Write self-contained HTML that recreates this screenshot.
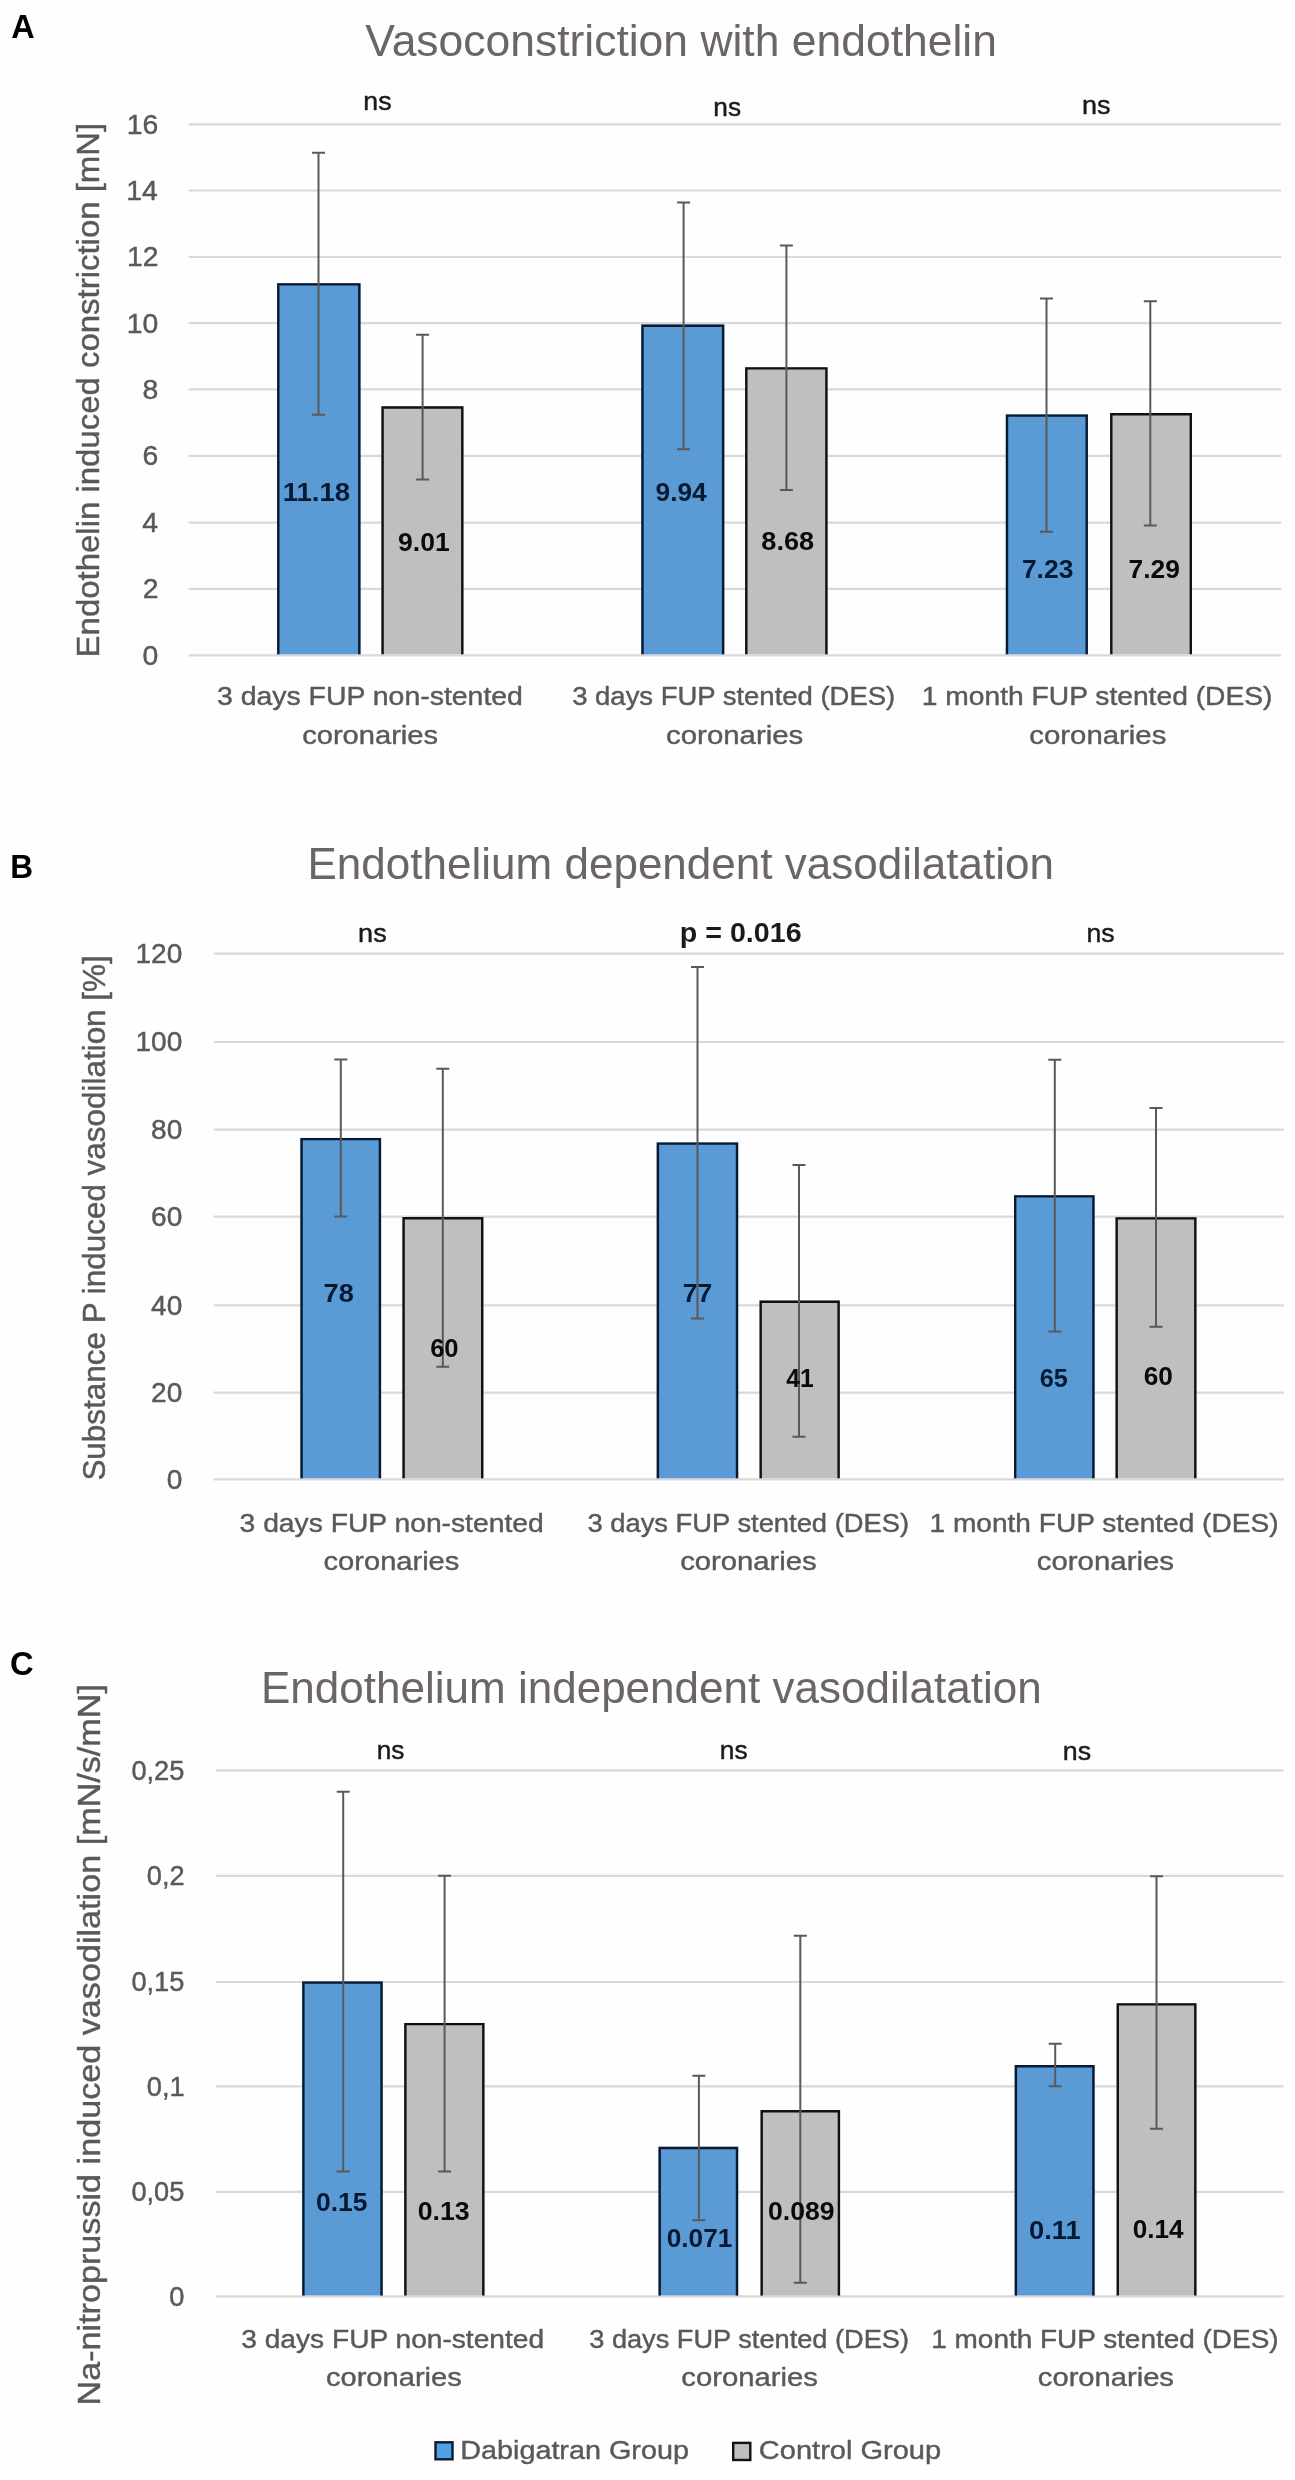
<!DOCTYPE html>
<html><head><meta charset="utf-8"><style>
html,body{margin:0;padding:0;background:#fefefe;}
svg{display:block;will-change:transform;}
text{font-family:"Liberation Sans",sans-serif;}
</style></head><body>
<svg width="1295" height="2480" viewBox="0 0 1295 2480">
<rect x="0" y="0" width="1295" height="2480" fill="#fefefe"/>

<line x1="188.6" y1="655.30" x2="1281.3" y2="655.30" stroke="#d9d9d9" stroke-width="2.2"/>
<line x1="188.6" y1="588.80" x2="1281.3" y2="588.80" stroke="#d9d9d9" stroke-width="2.2"/>
<line x1="188.6" y1="522.70" x2="1281.3" y2="522.70" stroke="#d9d9d9" stroke-width="2.2"/>
<line x1="188.6" y1="455.80" x2="1281.3" y2="455.80" stroke="#d9d9d9" stroke-width="2.2"/>
<line x1="188.6" y1="389.40" x2="1281.3" y2="389.40" stroke="#d9d9d9" stroke-width="2.2"/>
<line x1="188.6" y1="323.20" x2="1281.3" y2="323.20" stroke="#d9d9d9" stroke-width="2.2"/>
<line x1="188.6" y1="257.00" x2="1281.3" y2="257.00" stroke="#d9d9d9" stroke-width="2.2"/>
<line x1="188.6" y1="190.50" x2="1281.3" y2="190.50" stroke="#d9d9d9" stroke-width="2.2"/>
<line x1="188.6" y1="124.40" x2="1281.3" y2="124.40" stroke="#d9d9d9" stroke-width="2.2"/>
<rect x="277.10" y="283.20" width="83.40" height="371.10" fill="#5b9bd5"/>
<path d="M278.30,654.30 V284.40 H359.30 V654.30" fill="none" stroke="#0b1a30" stroke-width="2.4" stroke-linejoin="miter"/>
<rect x="381.40" y="406.30" width="82.10" height="248.00" fill="#bfbfbf"/>
<path d="M382.60,654.30 V407.50 H462.30 V654.30" fill="none" stroke="#111" stroke-width="2.4" stroke-linejoin="miter"/>
<rect x="641.30" y="324.50" width="83.00" height="329.80" fill="#5b9bd5"/>
<path d="M642.50,654.30 V325.70 H723.10 V654.30" fill="none" stroke="#0b1a30" stroke-width="2.4" stroke-linejoin="miter"/>
<rect x="745.10" y="367.20" width="82.50" height="287.10" fill="#bfbfbf"/>
<path d="M746.30,654.30 V368.40 H826.40 V654.30" fill="none" stroke="#111" stroke-width="2.4" stroke-linejoin="miter"/>
<rect x="1005.80" y="414.40" width="82.10" height="239.90" fill="#5b9bd5"/>
<path d="M1007.00,654.30 V415.60 H1086.70 V654.30" fill="none" stroke="#0b1a30" stroke-width="2.4" stroke-linejoin="miter"/>
<rect x="1110.10" y="413.00" width="81.90" height="241.30" fill="#bfbfbf"/>
<path d="M1111.30,654.30 V414.20 H1190.80 V654.30" fill="none" stroke="#111" stroke-width="2.4" stroke-linejoin="miter"/>
<path d="M318.50,152.80 V414.70 M312.00,152.80 H325.00 M312.00,414.70 H325.00" fill="none" stroke="#595959" stroke-width="2"/>
<path d="M422.60,334.70 V479.50 M416.10,334.70 H429.10 M416.10,479.50 H429.10" fill="none" stroke="#595959" stroke-width="2"/>
<path d="M683.60,202.60 V449.30 M677.10,202.60 H690.10 M677.10,449.30 H690.10" fill="none" stroke="#595959" stroke-width="2"/>
<path d="M786.40,245.40 V490.00 M779.90,245.40 H792.90 M779.90,490.00 H792.90" fill="none" stroke="#595959" stroke-width="2"/>
<path d="M1046.50,298.50 V531.70 M1040.00,298.50 H1053.00 M1040.00,531.70 H1053.00" fill="none" stroke="#595959" stroke-width="2"/>
<path d="M1150.30,301.30 V525.60 M1143.80,301.30 H1156.80 M1143.80,525.60 H1156.80" fill="none" stroke="#595959" stroke-width="2"/>
<line x1="213.9" y1="1479.30" x2="1283.8" y2="1479.30" stroke="#d9d9d9" stroke-width="2.2"/>
<line x1="213.9" y1="1392.60" x2="1283.8" y2="1392.60" stroke="#d9d9d9" stroke-width="2.2"/>
<line x1="213.9" y1="1305.30" x2="1283.8" y2="1305.30" stroke="#d9d9d9" stroke-width="2.2"/>
<line x1="213.9" y1="1216.70" x2="1283.8" y2="1216.70" stroke="#d9d9d9" stroke-width="2.2"/>
<line x1="213.9" y1="1129.70" x2="1283.8" y2="1129.70" stroke="#d9d9d9" stroke-width="2.2"/>
<line x1="213.9" y1="1042.00" x2="1283.8" y2="1042.00" stroke="#d9d9d9" stroke-width="2.2"/>
<line x1="213.9" y1="953.60" x2="1283.8" y2="953.60" stroke="#d9d9d9" stroke-width="2.2"/>
<rect x="300.40" y="1137.90" width="80.70" height="340.40" fill="#5b9bd5"/>
<path d="M301.60,1478.30 V1139.10 H379.90 V1478.30" fill="none" stroke="#0b1a30" stroke-width="2.4" stroke-linejoin="miter"/>
<rect x="402.40" y="1217.10" width="81.00" height="261.20" fill="#bfbfbf"/>
<path d="M403.60,1478.30 V1218.30 H482.20 V1478.30" fill="none" stroke="#111" stroke-width="2.4" stroke-linejoin="miter"/>
<rect x="656.70" y="1142.40" width="81.50" height="335.90" fill="#5b9bd5"/>
<path d="M657.90,1478.30 V1143.60 H737.00 V1478.30" fill="none" stroke="#0b1a30" stroke-width="2.4" stroke-linejoin="miter"/>
<rect x="759.50" y="1300.50" width="80.30" height="177.80" fill="#bfbfbf"/>
<path d="M760.70,1478.30 V1301.70 H838.60 V1478.30" fill="none" stroke="#111" stroke-width="2.4" stroke-linejoin="miter"/>
<rect x="1014.00" y="1195.20" width="80.60" height="283.10" fill="#5b9bd5"/>
<path d="M1015.20,1478.30 V1196.40 H1093.40 V1478.30" fill="none" stroke="#0b1a30" stroke-width="2.4" stroke-linejoin="miter"/>
<rect x="1115.50" y="1217.20" width="81.00" height="261.10" fill="#bfbfbf"/>
<path d="M1116.70,1478.30 V1218.40 H1195.30 V1478.30" fill="none" stroke="#111" stroke-width="2.4" stroke-linejoin="miter"/>
<path d="M340.80,1059.50 V1216.60 M334.30,1059.50 H347.30 M334.30,1216.60 H347.30" fill="none" stroke="#595959" stroke-width="2"/>
<path d="M442.80,1068.70 V1366.80 M436.30,1068.70 H449.30 M436.30,1366.80 H449.30" fill="none" stroke="#595959" stroke-width="2"/>
<path d="M697.50,967.00 V1318.60 M691.00,967.00 H704.00 M691.00,1318.60 H704.00" fill="none" stroke="#595959" stroke-width="2"/>
<path d="M799.00,1165.00 V1436.70 M792.50,1165.00 H805.50 M792.50,1436.70 H805.50" fill="none" stroke="#595959" stroke-width="2"/>
<path d="M1054.80,1059.70 V1331.40 M1048.30,1059.70 H1061.30 M1048.30,1331.40 H1061.30" fill="none" stroke="#595959" stroke-width="2"/>
<path d="M1156.00,1107.90 V1326.80 M1149.50,1107.90 H1162.50 M1149.50,1326.80 H1162.50" fill="none" stroke="#595959" stroke-width="2"/>
<line x1="216.0" y1="2296.40" x2="1283.5" y2="2296.40" stroke="#d9d9d9" stroke-width="2.2"/>
<line x1="216.0" y1="2191.90" x2="1283.5" y2="2191.90" stroke="#d9d9d9" stroke-width="2.2"/>
<line x1="216.0" y1="2086.40" x2="1283.5" y2="2086.40" stroke="#d9d9d9" stroke-width="2.2"/>
<line x1="216.0" y1="1982.00" x2="1283.5" y2="1982.00" stroke="#d9d9d9" stroke-width="2.2"/>
<line x1="216.0" y1="1875.90" x2="1283.5" y2="1875.90" stroke="#d9d9d9" stroke-width="2.2"/>
<line x1="216.0" y1="1770.40" x2="1283.5" y2="1770.40" stroke="#d9d9d9" stroke-width="2.2"/>
<rect x="302.20" y="1981.40" width="80.50" height="314.00" fill="#5b9bd5"/>
<path d="M303.40,2295.40 V1982.60 H381.50 V2295.40" fill="none" stroke="#0b1a30" stroke-width="2.4" stroke-linejoin="miter"/>
<rect x="404.20" y="2022.90" width="80.30" height="272.50" fill="#bfbfbf"/>
<path d="M405.40,2295.40 V2024.10 H483.30 V2295.40" fill="none" stroke="#111" stroke-width="2.4" stroke-linejoin="miter"/>
<rect x="658.50" y="2146.80" width="79.70" height="148.60" fill="#5b9bd5"/>
<path d="M659.70,2295.40 V2148.00 H737.00 V2295.40" fill="none" stroke="#0b1a30" stroke-width="2.4" stroke-linejoin="miter"/>
<rect x="760.50" y="2110.00" width="79.60" height="185.40" fill="#bfbfbf"/>
<path d="M761.70,2295.40 V2111.20 H838.90 V2295.40" fill="none" stroke="#111" stroke-width="2.4" stroke-linejoin="miter"/>
<rect x="1014.70" y="2065.00" width="79.90" height="230.40" fill="#5b9bd5"/>
<path d="M1015.90,2295.40 V2066.20 H1093.40 V2295.40" fill="none" stroke="#0b1a30" stroke-width="2.4" stroke-linejoin="miter"/>
<rect x="1116.60" y="2003.20" width="79.90" height="292.20" fill="#bfbfbf"/>
<path d="M1117.80,2295.40 V2004.40 H1195.30 V2295.40" fill="none" stroke="#111" stroke-width="2.4" stroke-linejoin="miter"/>
<path d="M343.20,1791.70 V2171.50 M336.70,1791.70 H349.70 M336.70,2171.50 H349.70" fill="none" stroke="#595959" stroke-width="2"/>
<path d="M444.60,1875.80 V2171.50 M438.10,1875.80 H451.10 M438.10,2171.50 H451.10" fill="none" stroke="#595959" stroke-width="2"/>
<path d="M698.90,2075.70 V2220.20 M692.40,2075.70 H705.40 M692.40,2220.20 H705.40" fill="none" stroke="#595959" stroke-width="2"/>
<path d="M800.30,1935.80 V2282.70 M793.80,1935.80 H806.80 M793.80,2282.70 H806.80" fill="none" stroke="#595959" stroke-width="2"/>
<path d="M1055.20,2043.70 V2086.30 M1048.70,2043.70 H1061.70 M1048.70,2086.30 H1061.70" fill="none" stroke="#595959" stroke-width="2"/>
<path d="M1156.50,1876.20 V2128.70 M1150.00,1876.20 H1163.00 M1150.00,2128.70 H1163.00" fill="none" stroke="#595959" stroke-width="2"/>
<rect x="435.5" y="2442.3" width="17.0" height="17.0" fill="#529fe3" stroke="#0b1a30" stroke-width="2.4"/>
<rect x="733.2" y="2442.9" width="17.1" height="17.1" fill="#bfbfbf" stroke="#111" stroke-width="2.4"/>
<text transform="translate(11.15,38.30) scale(0.9722,1)" font-size="33.43" font-weight="bold" fill="#000">A</text>
<text transform="translate(365.30,56.00) scale(0.9994,1)" font-size="44.48" fill="#6b6566">Vasoconstriction with endothelin</text>
<text transform="translate(363.33,110.38) scale(1.0541,1)" font-size="25.28" fill="#1a1a1a" stroke="#1a1a1a" stroke-width="0.427" stroke-linejoin="round">ns</text>
<text transform="translate(713.35,116.38) scale(1.0377,1)" font-size="25.28" fill="#1a1a1a" stroke="#1a1a1a" stroke-width="0.434" stroke-linejoin="round">ns</text>
<text transform="translate(1081.91,114.18) scale(1.0664,1)" font-size="25.28" fill="#1a1a1a" stroke="#1a1a1a" stroke-width="0.422" stroke-linejoin="round">ns</text>
<text transform="translate(142.42,664.77) scale(0.9970,1)" font-size="28.46" fill="#595959" stroke="#595959" stroke-width="0.451" stroke-linejoin="round">0</text>
<text transform="translate(142.70,598.27) scale(0.9970,1)" font-size="28.46" fill="#595959" stroke="#595959" stroke-width="0.451" stroke-linejoin="round">2</text>
<text transform="translate(142.14,532.18) scale(0.9970,1)" font-size="28.46" fill="#595959" stroke="#595959" stroke-width="0.451" stroke-linejoin="round">4</text>
<text transform="translate(142.42,465.27) scale(0.9970,1)" font-size="28.46" fill="#595959" stroke="#595959" stroke-width="0.451" stroke-linejoin="round">6</text>
<text transform="translate(142.42,398.87) scale(0.9970,1)" font-size="28.46" fill="#595959" stroke="#595959" stroke-width="0.451" stroke-linejoin="round">8</text>
<text transform="translate(126.64,332.67) scale(0.9970,1)" font-size="28.46" fill="#595959" stroke="#595959" stroke-width="0.451" stroke-linejoin="round">10</text>
<text transform="translate(126.92,266.47) scale(0.9970,1)" font-size="28.46" fill="#595959" stroke="#595959" stroke-width="0.451" stroke-linejoin="round">12</text>
<text transform="translate(126.35,199.97) scale(0.9970,1)" font-size="28.46" fill="#595959" stroke="#595959" stroke-width="0.451" stroke-linejoin="round">14</text>
<text transform="translate(126.64,133.88) scale(0.9970,1)" font-size="28.46" fill="#595959" stroke="#595959" stroke-width="0.451" stroke-linejoin="round">16</text>
<text transform="translate(282.64,501.30) scale(1.0742,1)" font-size="25.71" font-weight="bold" fill="#071a33">11.18</text>
<text transform="translate(398.00,551.00) scale(1.0332,1)" font-size="25.71" font-weight="bold" fill="#0a0a0a">9.01</text>
<text transform="translate(655.51,500.80) scale(1.0231,1)" font-size="25.71" font-weight="bold" fill="#071a33">9.94</text>
<text transform="translate(761.29,549.50) scale(1.0558,1)" font-size="25.71" font-weight="bold" fill="#0a0a0a">8.68</text>
<text transform="translate(1021.94,577.60) scale(1.0276,1)" font-size="25.71" font-weight="bold" fill="#071a33">7.23</text>
<text transform="translate(1128.54,577.60) scale(1.0276,1)" font-size="25.71" font-weight="bold" fill="#0a0a0a">7.29</text>
<text transform="translate(216.97,705.48) scale(1.0959,1)" font-size="25.94" fill="#595959" stroke="#595959" stroke-width="0.411" stroke-linejoin="round">3 days FUP non-stented</text>
<text transform="translate(302.16,743.88) scale(1.1226,1)" font-size="25.94" fill="#595959" stroke="#595959" stroke-width="0.401" stroke-linejoin="round">coronaries</text>
<text transform="translate(572.20,705.48) scale(1.0587,1)" font-size="25.94" fill="#595959" stroke="#595959" stroke-width="0.425" stroke-linejoin="round">3 days FUP stented (DES)</text>
<text transform="translate(666.05,743.88) scale(1.1335,1)" font-size="25.94" fill="#595959" stroke="#595959" stroke-width="0.397" stroke-linejoin="round">coronaries</text>
<text transform="translate(921.75,705.48) scale(1.0883,1)" font-size="25.94" fill="#595959" stroke="#595959" stroke-width="0.413" stroke-linejoin="round">1 month FUP stented (DES)</text>
<text transform="translate(1029.35,743.88) scale(1.1318,1)" font-size="25.94" fill="#595959" stroke="#595959" stroke-width="0.398" stroke-linejoin="round">coronaries</text>
<text transform="translate(99.18,655.00) rotate(-90) scale(1.0770,1)" x="-2.24" y="0" font-size="30.60" fill="#595959" stroke="#595959" stroke-width="0.418" stroke-linejoin="round">Endothelin induced constriction [mN]</text>
<text transform="translate(10.30,878.30) scale(0.9456,1)" font-size="33.43" font-weight="bold" fill="#000">B</text>
<text transform="translate(307.48,879.30) scale(0.9898,1)" font-size="44.48" fill="#6b6566">Endothelium dependent vasodilatation</text>
<text transform="translate(358.10,942.17) scale(1.0705,1)" font-size="25.28" fill="#1a1a1a" stroke="#1a1a1a" stroke-width="0.420" stroke-linejoin="round">ns</text>
<text transform="translate(679.78,942.30) scale(1.0511,1)" font-size="27.26" font-weight="bold" fill="#1a1a1a">p = 0.016</text>
<text transform="translate(1086.53,942.07) scale(1.0541,1)" font-size="25.28" fill="#1a1a1a" stroke="#1a1a1a" stroke-width="0.427" stroke-linejoin="round">ns</text>
<text transform="translate(166.68,1488.78) scale(0.9862,1)" font-size="28.46" fill="#595959" stroke="#595959" stroke-width="0.456" stroke-linejoin="round">0</text>
<text transform="translate(151.07,1402.08) scale(0.9862,1)" font-size="28.46" fill="#595959" stroke="#595959" stroke-width="0.456" stroke-linejoin="round">20</text>
<text transform="translate(151.07,1314.78) scale(0.9862,1)" font-size="28.46" fill="#595959" stroke="#595959" stroke-width="0.456" stroke-linejoin="round">40</text>
<text transform="translate(151.07,1226.18) scale(0.9862,1)" font-size="28.46" fill="#595959" stroke="#595959" stroke-width="0.456" stroke-linejoin="round">60</text>
<text transform="translate(151.07,1139.18) scale(0.9862,1)" font-size="28.46" fill="#595959" stroke="#595959" stroke-width="0.456" stroke-linejoin="round">80</text>
<text transform="translate(135.46,1051.48) scale(0.9862,1)" font-size="28.46" fill="#595959" stroke="#595959" stroke-width="0.456" stroke-linejoin="round">100</text>
<text transform="translate(135.46,963.08) scale(0.9862,1)" font-size="28.46" fill="#595959" stroke="#595959" stroke-width="0.456" stroke-linejoin="round">120</text>
<text transform="translate(323.61,1302.20) scale(1.0561,1)" font-size="25.71" font-weight="bold" fill="#071a33">78</text>
<text transform="translate(430.13,1357.00) scale(0.9966,1)" font-size="25.71" font-weight="bold" fill="#0a0a0a">60</text>
<text transform="translate(682.64,1302.10) scale(1.0325,1)" font-size="25.71" font-weight="bold" fill="#071a33">77</text>
<text transform="translate(786.35,1387.00) scale(0.9579,1)" font-size="25.71" font-weight="bold" fill="#0a0a0a">41</text>
<text transform="translate(1039.64,1386.60) scale(0.9834,1)" font-size="25.71" font-weight="bold" fill="#071a33">65</text>
<text transform="translate(1143.81,1384.90) scale(1.0189,1)" font-size="25.71" font-weight="bold" fill="#0a0a0a">60</text>
<text transform="translate(239.58,1531.68) scale(1.0894,1)" font-size="25.94" fill="#595959" stroke="#595959" stroke-width="0.413" stroke-linejoin="round">3 days FUP non-stented</text>
<text transform="translate(323.56,1570.08) scale(1.1218,1)" font-size="25.94" fill="#595959" stroke="#595959" stroke-width="0.401" stroke-linejoin="round">coronaries</text>
<text transform="translate(587.50,1531.68) scale(1.0541,1)" font-size="25.94" fill="#595959" stroke="#595959" stroke-width="0.427" stroke-linejoin="round">3 days FUP stented (DES)</text>
<text transform="translate(680.15,1570.08) scale(1.1285,1)" font-size="25.94" fill="#595959" stroke="#595959" stroke-width="0.399" stroke-linejoin="round">coronaries</text>
<text transform="translate(929.56,1531.68) scale(1.0830,1)" font-size="25.94" fill="#595959" stroke="#595959" stroke-width="0.416" stroke-linejoin="round">1 month FUP stented (DES)</text>
<text transform="translate(1036.75,1570.08) scale(1.1335,1)" font-size="25.94" fill="#595959" stroke="#595959" stroke-width="0.397" stroke-linejoin="round">coronaries</text>
<text transform="translate(105.18,1479.60) rotate(-90) scale(1.0273,1)" x="-1.00" y="0" font-size="30.60" fill="#595959" stroke="#595959" stroke-width="0.438" stroke-linejoin="round">Substance P induced vasodilation [%]</text>
<text transform="translate(9.99,1675.00) scale(0.9790,1)" font-size="33.43" font-weight="bold" fill="#000">C</text>
<text transform="translate(260.88,1702.60) scale(0.9902,1)" font-size="44.48" fill="#6b6566">Endothelium independent vasodilatation</text>
<text transform="translate(376.65,1759.08) scale(1.0377,1)" font-size="25.28" fill="#1a1a1a" stroke="#1a1a1a" stroke-width="0.434" stroke-linejoin="round">ns</text>
<text transform="translate(719.84,1759.08) scale(1.0418,1)" font-size="25.28" fill="#1a1a1a" stroke="#1a1a1a" stroke-width="0.432" stroke-linejoin="round">ns</text>
<text transform="translate(1062.71,1760.38) scale(1.0623,1)" font-size="25.28" fill="#1a1a1a" stroke="#1a1a1a" stroke-width="0.424" stroke-linejoin="round">ns</text>
<text transform="translate(169.23,2305.88) scale(0.9559,1)" font-size="28.46" fill="#595959" stroke="#595959" stroke-width="0.471" stroke-linejoin="round">0</text>
<text transform="translate(131.41,2201.38) scale(0.9559,1)" font-size="28.46" fill="#595959" stroke="#595959" stroke-width="0.471" stroke-linejoin="round">0,05</text>
<text transform="translate(146.81,2095.88) scale(0.9559,1)" font-size="28.46" fill="#595959" stroke="#595959" stroke-width="0.471" stroke-linejoin="round">0,1</text>
<text transform="translate(131.41,1991.48) scale(0.9559,1)" font-size="28.46" fill="#595959" stroke="#595959" stroke-width="0.471" stroke-linejoin="round">0,15</text>
<text transform="translate(146.81,1885.38) scale(0.9559,1)" font-size="28.46" fill="#595959" stroke="#595959" stroke-width="0.471" stroke-linejoin="round">0,2</text>
<text transform="translate(131.41,1779.88) scale(0.9559,1)" font-size="28.46" fill="#595959" stroke="#595959" stroke-width="0.471" stroke-linejoin="round">0,25</text>
<text transform="translate(316.01,2211.20) scale(1.0291,1)" font-size="25.71" font-weight="bold" fill="#071a33">0.15</text>
<text transform="translate(417.70,2219.80) scale(1.0387,1)" font-size="25.71" font-weight="bold" fill="#0a0a0a">0.13</text>
<text transform="translate(666.71,2246.50) scale(1.0209,1)" font-size="25.71" font-weight="bold" fill="#071a33">0.071</text>
<text transform="translate(768.00,2219.60) scale(1.0347,1)" font-size="25.71" font-weight="bold" fill="#0a0a0a">0.089</text>
<text transform="translate(1029.08,2238.50) scale(1.0621,1)" font-size="25.71" font-weight="bold" fill="#071a33">0.11</text>
<text transform="translate(1132.72,2238.30) scale(1.0150,1)" font-size="25.71" font-weight="bold" fill="#0a0a0a">0.14</text>
<text transform="translate(241.28,2348.18) scale(1.0847,1)" font-size="25.94" fill="#595959" stroke="#595959" stroke-width="0.415" stroke-linejoin="round">3 days FUP non-stented</text>
<text transform="translate(325.96,2386.38) scale(1.1218,1)" font-size="25.94" fill="#595959" stroke="#595959" stroke-width="0.401" stroke-linejoin="round">coronaries</text>
<text transform="translate(589.21,2348.18) scale(1.0485,1)" font-size="25.94" fill="#595959" stroke="#595959" stroke-width="0.429" stroke-linejoin="round">3 days FUP stented (DES)</text>
<text transform="translate(681.25,2386.38) scale(1.1285,1)" font-size="25.94" fill="#595959" stroke="#595959" stroke-width="0.399" stroke-linejoin="round">coronaries</text>
<text transform="translate(931.27,2348.18) scale(1.0777,1)" font-size="25.94" fill="#595959" stroke="#595959" stroke-width="0.418" stroke-linejoin="round">1 month FUP stented (DES)</text>
<text transform="translate(1037.86,2386.38) scale(1.1243,1)" font-size="25.94" fill="#595959" stroke="#595959" stroke-width="0.400" stroke-linejoin="round">coronaries</text>
<text transform="translate(99.78,2403.00) rotate(-90) scale(1.1170,1)" x="-2.25" y="0" font-size="30.60" fill="#595959" stroke="#595959" stroke-width="0.403" stroke-linejoin="round">Na-nitroprussid induced vasodilation [mN/s/mN]</text>
<text transform="translate(460.22,2458.58) scale(1.0910,1)" font-size="26.38" fill="#595959" stroke="#595959" stroke-width="0.412" stroke-linejoin="round">Dabigatran Group</text>
<text transform="translate(758.87,2458.78) scale(1.1005,1)" font-size="26.38" fill="#595959" stroke="#595959" stroke-width="0.409" stroke-linejoin="round">Control Group</text>
</svg>
</body></html>
